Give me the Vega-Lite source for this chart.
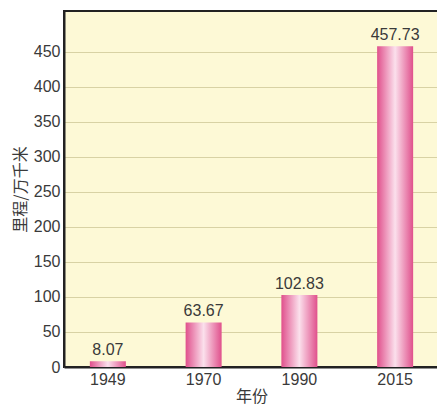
{
  "$schema": "https://vega.github.io/schema/vega-lite/v6.json",
  "autosize": "none",
  "padding": {"left": 64, "top": 11, "right": 0, "bottom": 49},
  "width": 375,
  "height": 356,
  "background": "white",
  "config": {
    "view": {"fill": "#fdf9d6", "stroke": "#222222", "strokeWidth": 2},
    "font": "Liberation Sans"
  },
  "data": {
    "values": [
      {"year": "1949", "km": 8.07, "label": "8.07"},
      {"year": "1970", "km": 63.67, "label": "63.67"},
      {"year": "1990", "km": 102.83, "label": "102.83"},
      {"year": "2015", "km": 457.73, "label": "457.73"}
    ]
  },
  "encoding": {
    "x": {
      "field": "year",
      "type": "nominal",
      "sort": null,
      "scale": {"paddingInner": 0.624, "paddingOuter": 0.27},
      "axis": {
        "title": "年份",
        "titleFont": "Noto Sans CJK SC",
        "titleFontWeight": "normal",
        "titleFontSize": 16,
        "titleColor": "#3a3a3a",
        "titlePadding": 1,
        "labelAngle": 0,
        "labelFontSize": 16,
        "labelColor": "#3a3a3a",
        "labelPadding": 4,
        "ticks": false,
        "domainColor": "#222222",
        "domainWidth": 2,
        "grid": false
      }
    },
    "y": {
      "field": "km",
      "type": "quantitative",
      "scale": {"domain": [0, 508], "nice": false},
      "axis": {
        "title": "里程/万千米",
        "titleFont": "Noto Sans CJK SC",
        "titleFontWeight": "normal",
        "titleFontSize": 16,
        "titleColor": "#3a3a3a",
        "titlePadding": 5,
        "values": [0, 50, 100, 150, 200, 250, 300, 350, 400, 450],
        "labelFontSize": 16,
        "labelColor": "#3a3a3a",
        "labelPadding": 4,
        "ticks": false,
        "domainColor": "#222222",
        "domainWidth": 2,
        "gridColor": "#d8d2a4",
        "gridWidth": 1
      }
    }
  },
  "layer": [
    {
      "mark": {
        "type": "bar",
        "color": {
          "gradient": "linear",
          "x1": 0, "x2": 1, "y1": 0, "y2": 0,
          "stops": [
            {"offset": 0, "color": "#e0508c"},
            {"offset": 0.5, "color": "#fbe0ec"},
            {"offset": 1, "color": "#e0508c"}
          ]
        }
      }
    },
    {
      "mark": {"type": "text", "dy": -11, "fontSize": 16, "color": "#3a3a3a"},
      "encoding": {"text": {"field": "label"}}
    }
  ]
}
